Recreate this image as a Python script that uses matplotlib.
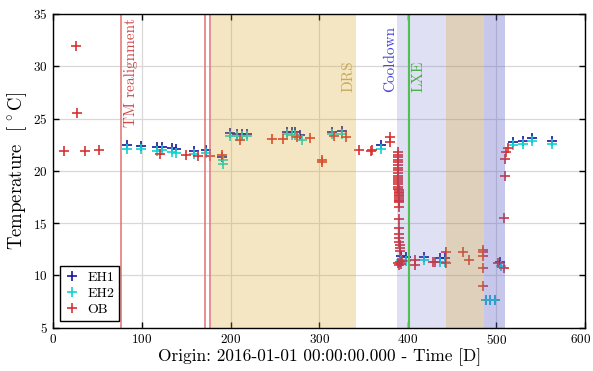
import matplotlib
matplotlib.use("Agg")
import matplotlib.pyplot as plt
from matplotlib.transforms import ScaledTranslation

plt.rcParams["font.family"] = "serif"
plt.rcParams["font.serif"] = ["cmr10", "DejaVu Serif"]
plt.rcParams["mathtext.fontset"] = "cm"
plt.rcParams["axes.formatter.use_mathtext"] = True
plt.rcParams["axes.unicode_minus"] = False

# Sensor readings: day offset from 2016-01-01 and temperature in deg C
eh1_day = [82.7, 99.0, 116.6, 122.2, 133.5, 138.4, 159.0, 172.2, 190.6,
           199.3, 206.9, 212.5, 218.2, 263.3, 269.0, 272.7, 278.3, 314.0, 325.4,
           369.4, 392.3, 397.6, 418.3, 436.3, 441.6, 488.0, 492.7, 498.3, 504.6,
           518.4, 529.7, 540.2, 562.8]
eh1_temp = [22.45, 22.4, 22.25, 22.25, 22.15, 22.1, 21.9, 21.95, 21.3,
            23.6, 23.55, 23.55, 23.55, 23.75, 23.7, 23.7, 23.4, 23.75, 23.85,
            22.45, 11.9, 11.8, 11.8, 11.7, 11.7, 7.65, 7.65, 7.65, 11.3,
            22.8, 22.9, 23.1, 22.9]

eh2_day = [82.7, 99.0, 116.6, 122.2, 133.5, 138.4, 159.0, 172.2, 191.5, 192.0,
           199.3, 206.9, 212.5, 218.2, 263.3, 269.0, 272.7, 281.0, 314.0, 325.4,
           369.4, 392.3, 397.6, 418.3, 436.3, 441.6, 488.0, 492.7, 498.3, 505.5,
           518.4, 529.7, 540.2, 562.8]
eh2_temp = [22.05, 22.05, 21.9, 21.95, 21.8, 21.7, 21.65, 21.7, 21.0, 20.7,
            23.3, 23.3, 23.35, 23.35, 23.5, 23.45, 23.4, 22.95, 23.5, 23.55,
            22.1, 11.5, 11.4, 11.45, 11.3, 11.3, 7.65, 7.65, 7.65, 10.9,
            22.5, 22.6, 22.85, 22.55]

ob_day = [12.3, 25.5, 26.6, 35.7, 51.5, 120.3, 149.7, 163.5, 176.7, 190.6,
          210.6, 247.0, 259.5, 274.6, 289.6, 302.8, 302.8, 316.7, 330.0,
          345.3, 358.4, 360.0, 379.9, 379.9,
          388.5, 388.6, 388.7, 388.8, 388.9, 389.0, 389.1, 389.1, 389.2, 389.2,
          389.3, 389.3, 389.4, 389.4, 389.5, 389.5, 389.6, 389.6, 389.7, 389.7,
          389.8, 389.8, 389.9, 389.9, 390.0, 390.1, 390.2, 390.3, 390.4, 390.5,
          390.6, 390.7, 390.8, 390.9,
          389.0, 390.0, 391.0, 392.0, 393.5,
          408.0, 408.0, 428.8, 430.5, 443.0, 443.5, 462.0, 469.0,
          485.2, 485.2, 485.2, 485.2, 485.2, 502.0, 508.6,
          508.6, 509.7, 510.0, 510.7, 512.6]
ob_temp = [21.9, 31.9, 25.55, 21.9, 22.0, 21.65, 21.55, 21.4, 21.4, 21.55,
           22.95, 23.0, 23.0, 23.2, 23.1, 21.0, 20.8, 23.3, 23.25,
           22.0, 21.9, 22.0, 23.25, 22.8,
           21.8, 21.55, 21.3, 21.05, 20.8, 20.55, 20.3, 20.05, 19.8, 19.55,
           19.3, 19.1, 18.9, 18.7, 18.5, 18.3, 18.15, 18.0, 17.85, 17.7,
           17.55, 17.4, 17.25, 17.1, 17.0, 16.5, 15.4, 14.5, 14.0, 13.6,
           13.2, 12.9, 12.6, 12.3,
           11.2, 11.0, 11.3, 11.1, 11.4,
           11.45, 11.0, 11.3, 11.25, 12.27, 11.2, 12.26, 11.5,
           12.4, 12.2, 11.9, 10.75, 9.0, 11.2, 10.7,
           15.5, 19.5, 21.1, 21.8, 22.2]

# Event markers and campaign periods (days)
tm_lines = [76.0, 171.0, 176.5]
lxe_day = 401.7
drs_span = (177.5, 341.0)
cooldown_span = (387.5, 510.0)
late_span = (486.0, 510.0)
tan_span = (443.0, 486.0)

fig = plt.figure(figsize=(5.93, 3.71), dpi=100)
ax = fig.add_axes([0.090, 0.1167, 0.8965, 0.8456])

c_eh1 = "#16169e"
c_eh2 = "#10d2d2"
c_ob = "#d63232"
mk = dict(marker="+", linestyle="none", markersize=6.5, markeredgewidth=1.2, zorder=3)
ax.plot(eh1_day, eh1_temp, color=c_eh1, label="EH1", **mk)
ax.plot(eh2_day, eh2_temp, color=c_eh2, label="EH2", **mk)
ax.plot(ob_day, ob_temp, color=c_ob, label="OB", **mk)

# Shaded periods drawn over the points
ax.axvspan(*drs_span, color="#daa520", alpha=0.27, lw=0, zorder=4)
ax.axvspan(*cooldown_span, color="#6464c8", alpha=0.2, lw=0, zorder=4)
ax.axvspan(*late_span, color="#6464c8", alpha=0.2, lw=0, zorder=4)
ax.axvspan(*tan_span, color="#daa520", alpha=0.27, lw=0, zorder=4)

for d in tm_lines:
    ax.axvline(d, color="#e07070", lw=1.1, zorder=5)
ax.axvline(lxe_day, color="#50c050", lw=1.5, zorder=5)

ax.text(87.4, 34.6, "TM realignment", rotation=90, ha="center", va="top",
        color="#d04848", fontsize=11, zorder=6)
ax.text(333.7, 27.5, "DRS", rotation=90, ha="center", va="bottom",
        color="#c8a855", fontsize=11, zorder=6)
ax.text(380.0, 27.5, "Cooldown", rotation=90, ha="center", va="bottom",
        color="#4444e0", fontsize=11, zorder=6)
ax.text(411.8, 27.5, "LXE", rotation=90, ha="center", va="bottom",
        color="#48b048", fontsize=11, zorder=6)

ax.set_xlim(0, 600)
ax.set_ylim(5, 35)
ax.set_xticks([0, 100, 200, 300, 400, 500, 600])
ax.set_yticks([5, 10, 15, 20, 25, 30, 35])
ax.grid(True, color="#d8d8d8", lw=0.9, zorder=1)
ax.set_axisbelow(True)
ax.tick_params(direction="in", top=True, right=True, length=4, width=1,
               labelsize=9.5, pad=4)
for s in ax.spines.values():
    s.set_linewidth(1.0)
    s.set_zorder(7)

# keep the last x tick label inside the canvas
fig.canvas.draw()
last = ax.get_xticklabels()[-1]
last.set_transform(last.get_transform() + ScaledTranslation(-4 / 100, 0, fig.dpi_scale_trans))

ax.set_xlabel("Origin: 2016-01-01 00:00:00.000 - Time [D]", fontsize=12.5, labelpad=1)
ax.set_ylabel(r"Temperature  $[\,^\circ\mathrm{C}]$", fontsize=13.5, labelpad=3)

leg = ax.legend(loc="lower left", fontsize=10, frameon=True, fancybox=False,
                edgecolor="black", framealpha=1, borderpad=0.35,
                labelspacing=0.25, handlelength=1.0, handletextpad=0.6,
                borderaxespad=0.5)
leg.get_frame().set_linewidth(1.0)
leg.set_zorder(10)

fig.savefig("out.png", dpi=100)
